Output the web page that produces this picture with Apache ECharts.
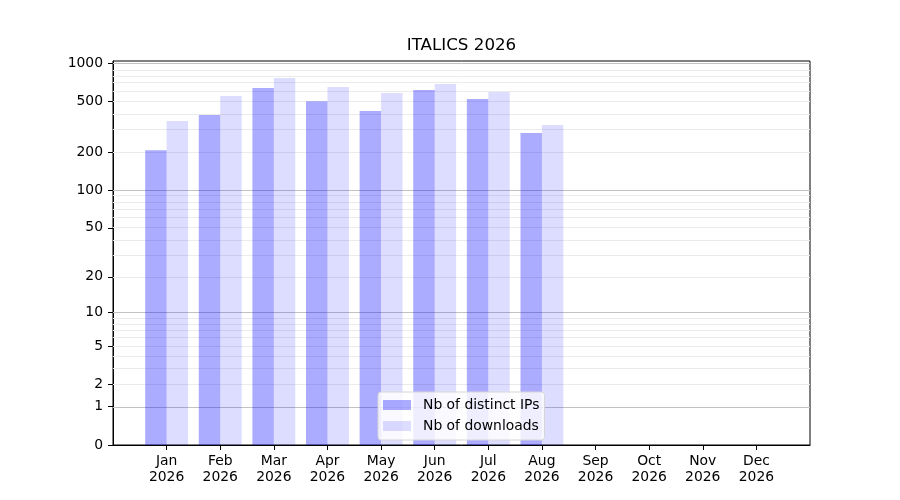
<!DOCTYPE html>
<html>

<head>
    <meta charset="utf-8">
    <title>ITALICS 2026</title>
    <script src="https://cdn.jsdelivr.net/npm/echarts@6/dist/echarts.min.js"></script>
    <style>
        html, body { margin: 0; padding: 0; background: #fff; }
        #main { width: 900px; height: 500px; }
    </style>
</head>

<body>
    <div id="main"></div>
    <script type="text/javascript">
        // data
        var months = ['Jan', 'Feb', 'Mar', 'Apr', 'May', 'Jun', 'Jul', 'Aug', 'Sep', 'Oct', 'Nov', 'Dec'];
        var year = '2026';
        var distinctIPs = [207, 392, 640, 503, 421, 617, 524, 283, null, null, null, null];
        var downloads = [352, 553, 767, 651, 584, 688, 595, 327, null, null, null, null];
        var yTicks = [0, 1, 2, 5, 10, 20, 50, 100, 200, 500, 1000];
        var majorGrid = [1, 10, 100, 1000];
        var minorGrid = [2, 3, 4, 5, 6, 7, 8, 9, 20, 30, 40, 50, 60, 70, 80, 90, 200, 300, 400, 500, 600, 700, 800, 900];

        var FONT = 'DejaVu Sans';

        // y scale is log10(v + 1)
        function tf(v) {
            return Math.log10(v + 1);
        }

        // one empty slot at each end so the frame sits a full month away
        var xLabels = [''].concat(months.map(function (m) { return m + '\n' + year; }), ['']);
        function pad(arr) {
            return ['-'].concat(arr.map(function (v) { return v == null ? '-' : tf(v); }), ['-']);
        }

        var gridLines = [];
        minorGrid.forEach(function (v) {
            gridLines.push({ yAxis: tf(v), lineStyle: { color: '#ebebeb', width: 1, type: 'solid' } });
        });
        majorGrid.forEach(function (v) {
            gridLines.push({ yAxis: tf(v), lineStyle: { color: '#c2c2c2', width: 1, type: 'solid' } });
        });

        var myChart = echarts.init(document.getElementById('main'));
        var option = {
            animation: false,
            textStyle: { fontFamily: FONT },
            title: {
                text: 'ITALICS 2026',
                left: 461.5,
                top: 37,
                padding: 0,
                textAlign: 'center',
                textStyle: { fontFamily: FONT, fontSize: 16.7, fontWeight: 'normal', color: '#000' }
            },
            legend: {
                data: ['Nb of distinct IPs', 'Nb of downloads'],
                orient: 'vertical',
                left: 378,
                top: 392,
                padding: [6, 5, 7, 5],
                itemWidth: 28,
                itemHeight: 10,
                itemGap: 7,
                icon: 'rect',
                backgroundColor: 'rgba(255,255,255,0.8)',
                borderColor: '#d6d6d6',
                borderWidth: 1,
                borderRadius: 3,
                textStyle: { fontFamily: FONT, fontSize: 13.9, color: '#000', padding: [0, 0, 0, 7] }
            },
            grid: {
                left: 113,
                right: 90,
                top: 61,
                bottom: 55,
                show: true,
                borderColor: '#000',
                borderWidth: 1,
                backgroundColor: 'transparent'
            },
            xAxis: {
                type: 'category',
                data: xLabels,
                boundaryGap: false,
                axisLine: { lineStyle: { color: '#000', width: 1 } },
                axisTick: {
                    length: 5,
                    lineStyle: { color: '#000' },
                    interval: function (index, value) { return value !== ''; }
                },
                axisLabel: {
                    interval: 0,
                    margin: 8,
                    fontFamily: FONT,
                    fontSize: 13.9,
                    lineHeight: 16,
                    color: '#000'
                },
                splitLine: { show: false }
            },
            yAxis: {
                type: 'value',
                min: 0,
                max: 3.019,
                axisLine: { show: true, lineStyle: { color: '#000', width: 1 } },
                axisTick: {
                    show: true,
                    length: 5,
                    lineStyle: { color: '#000' },
                    customValues: yTicks.map(tf)
                },
                axisLabel: {
                    margin: 10,
                    fontFamily: FONT,
                    fontSize: 13.9,
                    color: '#000',
                    customValues: yTicks.map(tf),
                    formatter: function (value) {
                        return String(Math.round(Math.pow(10, value) - 1));
                    }
                },
                splitLine: { show: false }
            },
            series: [
                {
                    name: 'grid',
                    type: 'line',
                    data: xLabels.map(function () { return '-'; }),
                    silent: true,
                    z: 1,
                    showSymbol: false,
                    markLine: {
                        silent: true,
                        z: 1,
                        symbol: 'none',
                        label: { show: false },
                        data: gridLines
                    }
                },
                {
                    name: 'Nb of distinct IPs',
                    type: 'bar',
                    data: pad(distinctIPs),
                    barWidth: '40%',
                    barGap: '0%',
                    z: 3,
                    itemStyle: { color: 'rgba(0,0,255,0.33)' }
                },
                {
                    name: 'Nb of downloads',
                    type: 'bar',
                    data: pad(downloads),
                    barWidth: '40%',
                    barGap: '0%',
                    z: 3,
                    itemStyle: { color: 'rgba(0,0,255,0.133)' }
                }
            ]
        };
        myChart.setOption(option);
    </script>
</body>

</html>
